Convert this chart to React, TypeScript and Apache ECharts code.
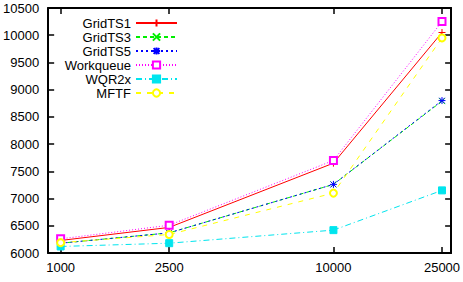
import React, { useEffect, useRef } from "react";
import * as echarts from "echarts";

const xValues = [1000, 2500, 10000, 25000];
const xTickLabels = [1000, 2500, 10000, 25000];
const gridTS1 = [6230, 6470, 7650, 10050];
const gridTS3 = [6180, 6370, 7260, 8790];
const gridTS5 = [6180, 6370, 7260, 8800];
const workqueue = [6260, 6510, 7700, 10250];
const wqr2x = [6120, 6180, 6420, 7150];
const mftf = [6190, 6340, 7100, 9950];
const seriesNames = ["GridTS1", "GridTS3", "GridTS5", "Workqueue", "WQR2x", "MFTF"];

const FONT = "Liberation Sans";

export default function App() {
  const ref = useRef<HTMLDivElement>(null);
  useEffect(() => {
    if (!ref.current) return;
    const chart = echarts.init(ref.current, null, { renderer: "svg" });
    const pair = (ys: number[]) => xValues.map((x, i) => [x, ys[i]]);
    const mk = (
      name: string,
      ys: number[],
      color: string,
      symbol: string,
      dash: any,
      size: number
    ) => ({
      name,
      type: "line",
      data: pair(ys),
      symbol,
      symbolSize: size,
      showSymbol: true,
      color,
      lineStyle: { color, width: 1, type: dash },
      itemStyle: {
        color,
        borderColor: color,
        borderWidth: 1,
      },
      emphasis: { disabled: true },
    });
    const plus = "path://M0,5L10,5M5,0L5,10";
    const cross = "path://M0,0L10,10M0,10L10,0";
    const star = "path://M0,5L10,5M5,0L5,10M1,1L9,9M1,9L9,1";
    const axisLine = { show: true, lineStyle: { color: "#000", width: 2 } };
    const tickStyle = { color: "#000", width: 1.5 };
    chart.setOption({
      animation: false,
      backgroundColor: "#fff",
      textStyle: { fontFamily: FONT },
      grid: { left: 45, top: 8, right: 10, bottom: 29 },
      legend: {
        orient: "vertical",
        align: "right",
        right: 285,
        top: 16,
        padding: 0,
        itemGap: 0,
        itemWidth: 41,
        itemHeight: 9,
        selectedMode: false,
        data: seriesNames,
        textStyle: { fontFamily: FONT, fontSize: 13, color: "#000", lineHeight: 14 },
      },
      xAxis: [
        {
          type: "log",
          min: 900,
          max: 27000,
          position: "bottom",
          axisLine,
          splitLine: { show: false },
          minorTick: { show: false },
          axisTick: { show: true, inside: true, length: 6, lineStyle: tickStyle, customValues: xTickLabels },
          axisLabel: {
            show: true,
            color: "#000",
            fontFamily: FONT,
            fontSize: 13,
            margin: 8,
            customValues: xTickLabels,
            formatter: (v: number) => String(Math.round(v)),
          },
        },
        {
          type: "log",
          min: 900,
          max: 27000,
          position: "top",
          axisLine,
          splitLine: { show: false },
          minorTick: { show: false },
          axisTick: { show: true, inside: true, length: 6, lineStyle: tickStyle, customValues: xTickLabels },
          axisLabel: { show: false },
        },
      ],
      yAxis: [
        {
          type: "value",
          min: 6000,
          max: 10500,
          interval: 500,
          position: "left",
          axisLine,
          splitLine: { show: false },
          axisTick: { show: true, inside: true, length: 6, lineStyle: tickStyle },
          axisLabel: {
            color: "#000",
            fontFamily: FONT,
            fontSize: 13,
            margin: 9,
            formatter: (v: number) => String(v),
          },
        },
        {
          type: "value",
          min: 6000,
          max: 10500,
          interval: 500,
          position: "right",
          axisLine,
          splitLine: { show: false },
          axisTick: { show: true, inside: true, length: 6, lineStyle: tickStyle },
          axisLabel: { show: false },
        },
      ],
      series: [
        mk("GridTS1", gridTS1, "#ff0000", plus, "solid", 7),
        mk("GridTS3", gridTS3, "#00ee00", cross, [4, 3], 6),
        mk("GridTS5", gridTS5, "#0000ff", star, [2, 3], 7),
        mk("Workqueue", workqueue, "#ff00ff", "emptyRect", [1, 2], 7),
        mk("WQR2x", wqr2x, "#00e5ee", "rect", [6, 3, 1, 3], 7),
        mk("MFTF", mftf, "#ffff00", "emptyCircle", [5, 6], 7),
      ],
    });
    return () => chart.dispose();
  }, []);
  return (
    <div
      ref={ref}
      style={{ position: "fixed", left: 0, top: 0, width: 463, height: 282 }}
    />
  );
}
